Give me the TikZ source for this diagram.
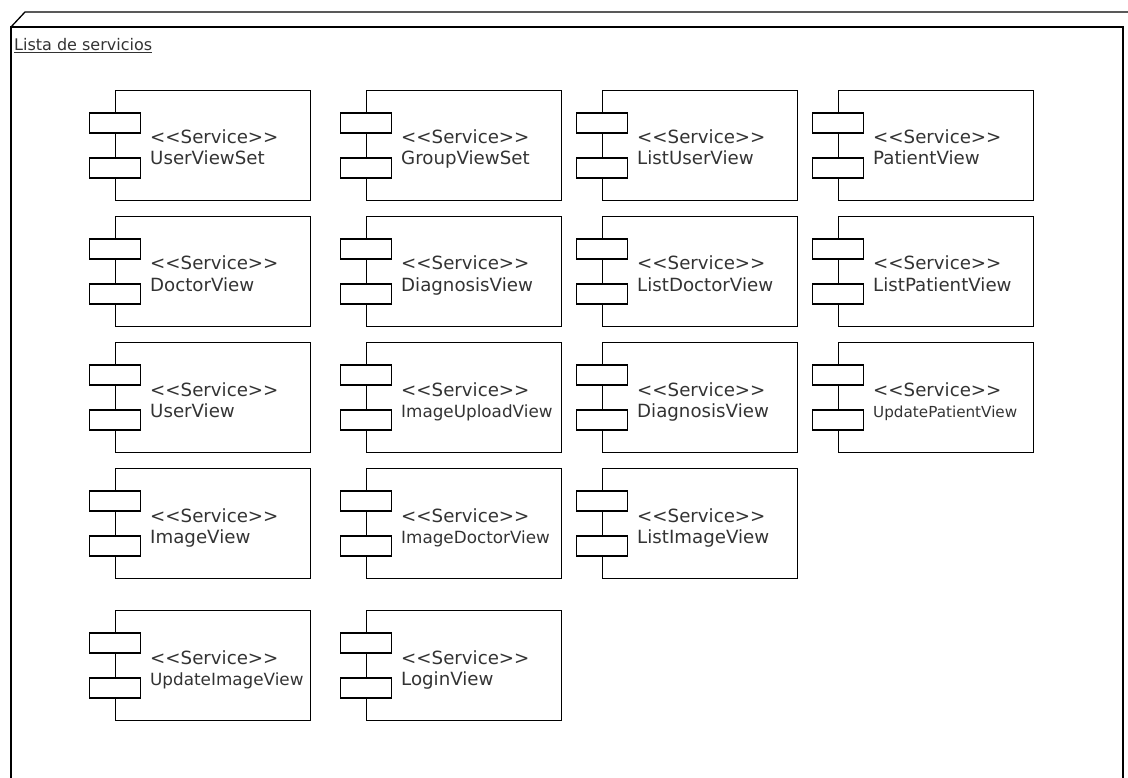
\documentclass[tikz,border=0pt]{standalone}
\usepackage{fontspec}
\setmainfont{DejaVu Sans}
\usepackage{tikz}
\usetikzlibrary{positioning}
\usepackage{xcolor}
\definecolor{svtext}{RGB}{51,51,51}
\tikzstyle{frame} = [line width=1.3pt]
\tikzstyle{comp} = [rectangle, draw=black, line width=1.2pt, minimum width=195pt, minimum height=110pt, anchor=north west, inner sep=0pt]
\tikzstyle{port} = [rectangle, draw=black, fill=white, line width=1.2pt, minimum width=51pt, minimum height=20pt, inner sep=0pt]
\tikzstyle{stereo} = [anchor=base west, inner sep=0pt, text=svtext, font=\fontsize{18.2}{20}\selectfont]
% one service box: [size of name] {node name} {top left corner} {label}
\newcommand{\service}[4][18.2]{%
  \node (#2) [comp] at (#3) {};
  \node (#2-p1) [port] at ([yshift=-33pt]#2.north west) {};
  \node (#2-p2) [port] at ([yshift=-78pt]#2.north west) {};
  \node (#2-s) [stereo] at ([xshift=35pt,yshift=-54pt]#2.north west) {<{}<Service>{}>};
  \node (#2-n) [stereo, font=\fontsize{#1}{#1}\selectfont] at ([xshift=35pt,yshift=-75pt]#2.north west) {#4};
}

\begin{document}
\begin{tikzpicture}[x=1pt, y=-1pt]
\useasboundingbox (0,0) rectangle (1128,778);
% package frame
\draw[frame] (1128,12) -- (25,12) -- (11,27);
\draw[frame] (11,778) -- (11,27) -- (1123,27) -- (1123,778);
\node (title) [anchor=base west, inner sep=0pt, text=svtext, font=\fontsize{16}{18}\selectfont] at (14,51) {\underline{Lista de servicios}};

% row 1
\service{userviewset}{115,90}{UserViewSet}
\service{groupviewset}{366,90}{GroupViewSet}
\service{listuserview}{602,90}{ListUserView}
\service{patientview}{838,90}{PatientView}
% row 2
\service{doctorview}{115,216}{DoctorView}
\service{diagnosisview}{366,216}{DiagnosisView}
\service{listdoctorview}{602,216}{ListDoctorView}
\service{listpatientview}{838,216}{ListPatientView}
% row 3
\service{userview}{115,342}{UserView}
\service[16.8]{imageuploadview}{366,342}{ImageUploadView}
\service{diagnosisview2}{602,342}{DiagnosisView}
\service[15.2]{updatepatientview}{838,342}{UpdatePatientView}
% row 4
\service{imageview}{115,468}{ImageView}
\service[16.8]{imagedoctorview}{366,468}{ImageDoctorView}
\service{listimageview}{602,468}{ListImageView}
% row 5
\service[16.8]{updateimageview}{115,610}{UpdateImageView}
\service{loginview}{366,610}{LoginView}
\end{tikzpicture}
\end{document}
